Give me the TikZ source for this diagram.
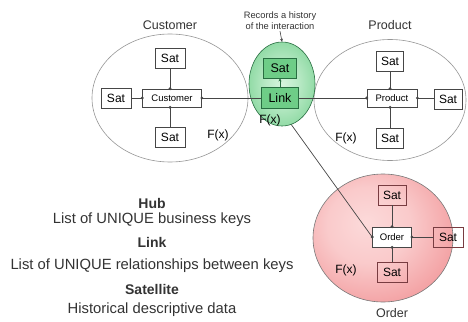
\documentclass[tikz,border=0pt]{standalone}
\usepackage{fontspec}
\setmainfont{Liberation Sans}
\usetikzlibrary{arrows.meta,shapes.geometric}

\definecolor{ringgray}{RGB}{150,150,150}
\definecolor{boxline}{RGB}{70,70,70}
\definecolor{gin}{RGB}{215,245,222}
\definecolor{gout}{RGB}{70,190,105}
\definecolor{gline}{RGB}{40,110,65}
\definecolor{gbox}{RGB}{110,205,135}
\definecolor{rin}{RGB}{252,218,218}
\definecolor{rout}{RGB}{236,112,116}
\definecolor{rline}{RGB}{120,60,65}

\pgfdeclareradialshading{greenball}{\pgfpoint{0bp}{0bp}}{%
  color(0bp)=(gin); color(12bp)=(gin!80!gout); color(50bp)=(gout); color(100bp)=(gout)}
\pgfdeclareradialshading{redball}{\pgfpoint{-6bp}{6bp}}{%
  color(0bp)=(rin); color(15bp)=(rin!85!rout); color(50bp)=(rout); color(100bp)=(rout)}

\begin{document}
\begin{tikzpicture}[x=1pt,y=-1pt,
  ring/.style={ellipse, draw=ringgray, line width=0.6pt, inner sep=0pt},
  satbox/.style={draw=boxline, fill=white, line width=0.7pt,
    font=\fontsize{12}{12}\selectfont, minimum width=30, minimum height=20, inner sep=0pt},
  hubbox/.style={draw=boxline, fill=white, line width=0.7pt,
    font=\fontsize{9.5}{10}\selectfont, minimum height=18, inner sep=0pt},
  greenbox/.style={draw=gline, fill=gbox, line width=0.8pt,
    font=\fontsize{12.5}{12.5}\selectfont, inner sep=0pt},
  redsat/.style={satbox, draw=rline, fill=none},
  conn/.style={draw=boxline, line width=0.7pt},
  dot/.style={fill=boxline},
  fx/.style={font=\fontsize{12}{12}\selectfont},
  title/.style={font=\fontsize{12.5}{12.5}\selectfont, text=black!80},
  legend/.style={font=\fontsize{14.8}{16}\selectfont, text=black!80},
  legendhead/.style={font=\bfseries\fontsize{14}{16}\selectfont, text=black!80}
]
\useasboundingbox (0,0) rectangle (468,321);

% grouping rings
\node[ring, minimum width=156, minimum height=128] (custring) at (170,98) {};
\node[ring, minimum width=152, minimum height=121] (prodring) at (390,100) {};
\node[ring, draw=ringgray!80!black, shade, shading=redball,
      minimum width=140, minimum height=128] (ordring) at (383,238) {};

% link box and the link to order (passes under the link ring)
\node[greenbox, minimum width=37, minimum height=21] (link) at (280,98) {Link};
\node[hubbox, minimum width=39, minimum height=20] (ord) at (392,237) {Order};
\draw[conn] (link.south) -- (ord.west);
\fill[dot] (ord.west) circle (1.6);

\node[ring, draw=gline, shade, shading=greenball,
      minimum width=66, minimum height=84] (linkring) at (282,84) {};

% customer hub
\node[hubbox, minimum width=59] (cust) at (172,98) {Customer};
\node[satbox] (csat1) at (170,58) {Sat};
\node[satbox] (csat2) at (116,98) {Sat};
\node[satbox] (csat3) at (170,137) {Sat};
\draw[conn] (csat1) -- (csat1 |- cust.north);
\draw[conn] (csat3) -- (csat3 |- cust.south);
\draw[conn] (csat2) -- (cust.west);
\fill[dot] (csat1 |- cust.north) circle (1.6);
\fill[dot] (csat3 |- cust.south) circle (1.6);
\fill[dot] (cust.west) circle (1.6);

% product hub
\node[hubbox, minimum width=50] (prod) at (392,98) {Product};
\node[satbox, minimum width=27] (psat1) at (390,61) {Sat};
\node[satbox, minimum width=28] (psat2) at (448,99) {Sat};
\node[satbox, minimum width=27] (psat3) at (390,138) {Sat};
\draw[conn] (psat1) -- (psat1 |- prod.north);
\draw[conn] (psat3) -- (psat3 |- prod.south);
\draw[conn] (prod.east) -- (psat2.west |- prod.east);
\fill[dot] (psat1 |- prod.north) circle (1.6);
\fill[dot] (psat3 |- prod.south) circle (1.6);
\fill[dot] (prod.east) circle (1.6);

% customer -- link -- product
\node[greenbox, minimum width=37, minimum height=21] (link) at (280,98) {Link};
\node[greenbox, minimum width=33, minimum height=20] (lsat) at (280,68) {Sat};
\draw[conn] (cust.east) -- (link.west);
\draw[conn] (link.east) -- (prod.west);
\fill[dot] (cust.east) circle (1.6);
\fill[dot] (prod.west) circle (1.6);
\draw[draw=gline, line width=0.7pt, -{Stealth[length=3pt,width=3pt]}] (link.north) -- (lsat.south);

% order hub
\node[redsat, minimum width=28] (osat1) at (392,195) {Sat};
\node[redsat, minimum width=30] (osat2) at (448,237) {Sat};
\node[redsat, minimum width=30] (osat3) at (392,272) {Sat};
\draw[conn] (osat1) -- (osat1 |- ord.north);
\draw[conn] (osat3) -- (osat3 |- ord.south);
\draw[conn] (ord.east) -- (osat2.west);
\fill[dot] (osat1 |- ord.north) circle (1.6);
\fill[dot] (osat3 |- ord.south) circle (1.6);
\fill[dot] (ord.east) circle (1.6);

% F(x) marks
\node[fx] (fxc) at (218,135) {F(x)};
\node[fx] (fxl) at (270,120) {F(x)};
\node[fx] (fxp) at (346,138) {F(x)};
\node[fx] (fxo) at (346,270) {F(x)};

% titles
\node[title] (tcust) at (170,25) {Customer};
\node[title] (tprod) at (390,25) {Product};
\node[title] (tord) at (392,313) {Order};
\node[font=\fontsize{9.3}{11}\selectfont, align=center, inner sep=1pt, text=black!80]
  (note) at (280,21) {Records a history\\of the interaction};
\draw[line width=0.6pt, draw=boxline, -{Stealth[length=3pt,width=3pt]}] (note.south) -- (linkring.north);

% legend
\node[legendhead] (lh1) at (152,203) {Hub};
\node[legend] (lt1) at (152,220) {List of UNIQUE business keys};
\node[legendhead] (lh2) at (152,242) {Link};
\node[legend] (lt2) at (152,266) {List of UNIQUE relationships between keys};
\node[legendhead] (lh3) at (152,289) {Satellite};
\node[legend] (lt3) at (152,310) {Historical descriptive data};
\end{tikzpicture}
\end{document}
